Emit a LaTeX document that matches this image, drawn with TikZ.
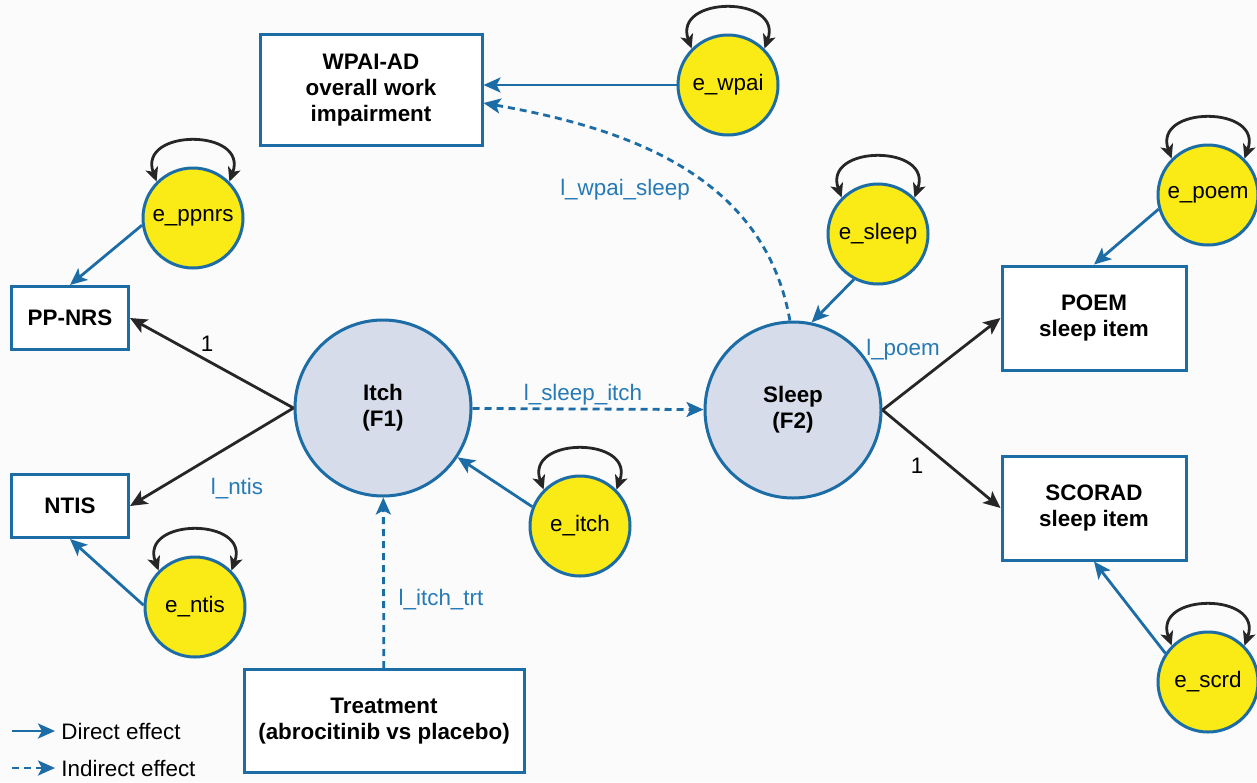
\documentclass[tikz,border=0pt]{standalone}
\usepackage{fontspec}
\setmainfont{Liberation Sans}
\usetikzlibrary
  {
    arrows.meta,   % arrow heads
    calc,
    positioning,   % place nodes relative to other nodes
  }
\definecolor{semblue}{RGB}{28,108,166}
\definecolor{labblue}{RGB}{38,122,182}
\definecolor{erryellow}{RGB}{250,234,22}
\definecolor{latfill}{RGB}{214,220,233}
\definecolor{bgray}{RGB}{251,251,251}

\begin{document}
\begin{tikzpicture}
  [x=0.5pt, y=0.5pt,
   font=\fontsize{11.2}{13}\selectfont,
   obs/.style={draw=semblue, line width=1.5pt, fill=white, align=center,
     font=\fontsize{11.2}{13}\selectfont\bfseries, inner sep=0pt},
   lat/.style={circle, draw=semblue, line width=1.5pt, fill=latfill,
     minimum size=88pt, align=center, font=\fontsize{11.2}{13}\selectfont\bfseries},
   err/.style={circle, draw=semblue, line width=1.5pt, fill=erryellow,
     minimum size=50pt, inner sep=0pt},
   direct/.style={semblue, line width=1.4pt,
     -{Stealth[length=8.5pt,width=7.5pt,inset=2pt]}},
   indirect/.style={direct, dash pattern=on 3.5pt off 2.5pt},
   loading/.style={black!85, line width=1.4pt,
     -{Stealth[length=8.5pt,width=7.5pt,inset=2pt]}},
   var/.style={black!85, line width=1.4pt,
     {Stealth[length=7pt,width=6.5pt,inset=1.8pt]}-{Stealth[length=7pt,width=6.5pt,inset=1.8pt]}},
   lbl/.style={text=labblue}]

  \fill [bgray] (0,0) rectangle (1257,-782);
  \useasboundingbox (0,0) rectangle (1257,-782);

  % observed variables
  \node [obs, minimum width=111pt, minimum height=55.5pt] (wpai) at (371,-90)
    {WPAI-AD\\overall work\\impairment};
  \node [obs, minimum width=58.5pt, minimum height=31.5pt] (ppnrs) at (70,-318) {PP-NRS};
  \node [obs, minimum width=58.5pt, minimum height=31.5pt] (ntis) at (70,-506) {NTIS};
  \node [obs, minimum width=92pt, minimum height=52pt] (poem) at (1094,-318)
    {POEM\\sleep item};
  \node [obs, minimum width=92pt, minimum height=52pt] (scrd) at (1094,-508)
    {SCORAD\\sleep item};
  \node [obs, minimum width=140pt, minimum height=51.5pt] (trt) at (384,-721)
    {Treatment\\(abrocitinib vs placebo)};

  % latent factors
  \node [lat] (itch) at (383,-408) {Itch\\(F1)};
  \node [lat] (sleep) at (793,-410) {Sleep\\(F2)};

  % error terms
  \node [err] (ewpai) at (728,-85) {e\_wpai};
  \node [err] (eppnrs) at (193,-218) {e\_ppnrs};
  \node [err] (esleep) at (878,-234) {e\_sleep};
  \node [err] (epoem) at (1208,-195) {e\_poem};
  \node [err] (eitch) at (580,-526) {e\_itch};
  \node [err] (entis) at (195,-607) {e\_ntis};
  \node [err] (escrd) at (1208,-682) {e\_scrd};

  % variances
  \draw [var] (ewpai.135) to [out=110, in=70, looseness=2] (ewpai.45);
  \draw [var] (eppnrs.135) to [out=110, in=70, looseness=2] (eppnrs.45);
  \draw [var] (esleep.135) to [out=110, in=70, looseness=2] (esleep.45);
  \draw [var] (epoem.135) to [out=110, in=70, looseness=2] (epoem.45);
  \draw [var] (eitch.135) to [out=110, in=70, looseness=2] (eitch.45);
  \draw [var] (entis.135) to [out=110, in=70, looseness=2] (entis.45);
  \draw [var] (escrd.135) to [out=110, in=70, looseness=2] (escrd.45);

  % loadings
  \draw [loading] (itch.west) -- (ppnrs.east);
  \draw [loading] (itch.west) -- (ntis.east);
  \draw [loading] (sleep.east) -- (poem.west);
  \draw [loading] (sleep.east) -- (scrd.west);

  % errors into indicators
  \draw [direct] (ewpai.west) -- (ewpai.west -| wpai.east);
  \draw [direct] (eppnrs.188) -- (ppnrs.north);
  \draw [direct] (entis.178) -- (ntis.south);
  \draw [direct] (epoem.196) -- (poem.north);
  \draw [direct] (escrd.146) -- (scrd.south);
  \draw [direct] (eitch.158) -- (itch);
  \draw [direct] (esleep.242) -- (sleep.78);

  % structural paths
  \draw [indirect] (itch) -- (sleep);
  \draw [indirect] (trt) -- (itch);
  \draw [indirect] (sleep.92) to [out=100, in=-10] ([yshift=-6.5pt]wpai.east);

  % path labels
  \node at (207,-344) {1};
  \node [lbl] at (237,-489) {l\_ntis};
  \node [lbl] at (583,-395) {l\_sleep\_itch};
  \node [lbl] at (625,-190) {l\_wpai\_sleep};
  \node [lbl] at (903,-350) {l\_poem};
  \node at (917,-466) {1};
  \node [lbl] at (441,-600) {l\_itch\_trt};

  % legend
  \coordinate (d1) at (12,-731);
  \coordinate (d2) at (55,-731);
  \coordinate (i1) at (12,-768);
  \coordinate (i2) at (55,-768);
  \draw [direct] (d1) -- (d2);
  \draw [indirect] (i1) -- (i2);
  \node [right=2pt of d2, inner sep=1pt] (dtext) {Direct effect};
  \node [right=2pt of i2, inner sep=1pt] (itext) {Indirect effect};
\end{tikzpicture}
\end{document}
